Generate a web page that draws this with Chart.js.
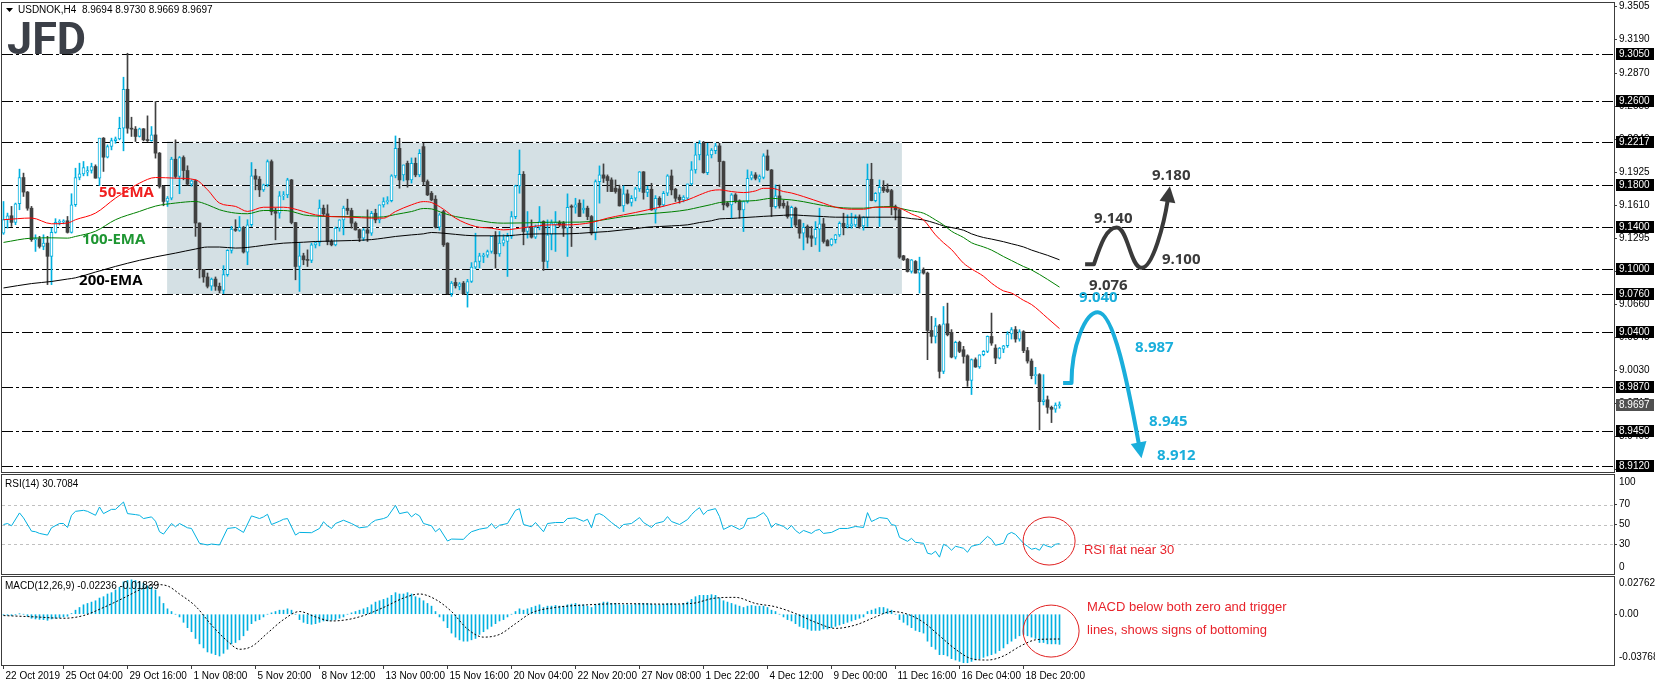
<!DOCTYPE html>
<html>
<head>
<meta charset="utf-8">
<title>USDNOK H4</title>
<script src="https://cdn.jsdelivr.net/npm/chart.js@4.4.1/dist/chart.umd.min.js"></script>
<style>
  html, body { margin: 0; padding: 0; background: #fff; }
  #wrap { position: relative; width: 1655px; height: 686px; overflow: hidden; }
  #wrap canvas { position: absolute; left: 0; top: 0; }
</style>
</head>
<body>
<div id="wrap">
  <canvas id="mainChart" width="1655" height="686"></canvas>
  <canvas id="rsiChart" width="1655" height="686"></canvas>
  <canvas id="macdChart" width="1655" height="686"></canvas>
</div>
<script>
// ---- chart data ----
const xTickBars = [0, 15, 31, 47, 63, 79, 95, 111, 127, 143, 159, 175, 191, 207, 223, 239, 255];
const xTickLabels = ['22 Oct 2019', '25 Oct 04:00', '29 Oct 16:00', '1 Nov 08:00', '5 Nov 20:00', '8 Nov 12:00',
  '13 Nov 00:00', '15 Nov 16:00', '20 Nov 04:00', '22 Nov 20:00', '27 Nov 08:00', '1 Dec 22:00',
  '4 Dec 12:00', '9 Dec 00:00', '11 Dec 16:00', '16 Dec 04:00', '18 Dec 20:00'];

const opens = [
  9.1342,9.1470,9.1508,9.1444,9.1622,9.1873,9.1734,9.1580,9.1279,9.1288,
  9.1215,9.1247,9.1120,9.1349,9.1444,9.1450,9.1460,9.1349,9.1613,9.1873,
  9.1908,9.1924,9.1940,9.1978,9.1867,9.2249,9.2067,9.2169,9.2226,9.2242,
  9.2344,9.2716,9.2344,9.2335,9.2265,9.2338,9.2233,9.2226,9.2280,9.2106,
  9.1788,9.1644,9.1676,9.2048,9.1883,9.2064,9.1940,9.1810,9.1842,9.1438,
  9.0993,9.0923,9.0834,9.0903,9.0834,9.0795,9.0945,9.1177,9.1380,9.1368,
  9.1396,9.1161,9.1422,9.1889,9.1857,9.1755,9.1803,9.2025,9.1548,9.1532,
  9.1698,9.1707,9.1850,9.1443,9.1023,9.1125,9.1087,9.1081,9.1230,9.1252,
  9.1580,9.1526,9.1262,9.1230,9.1389,9.1469,9.1580,9.1558,9.1437,9.1373,
  9.1294,9.1373,9.1341,9.1532,9.1468,9.1612,9.1643,9.1653,9.1888,9.2152,
  9.1898,9.2009,9.1850,9.2009,9.1898,9.2168,9.1834,9.1723,9.1666,9.1399,
  9.1548,9.1246,9.0763,9.0871,9.0833,9.0864,9.0775,9.0880,9.1017,9.1071,
  9.1120,9.1132,9.1166,9.1310,9.1144,9.1246,9.1262,9.1310,9.1500,9.1793,
  9.1904,9.1357,9.1405,9.1303,9.1399,9.1453,9.1071,9.1330,9.1420,9.1443,
  9.1437,9.1389,9.1600,9.1589,9.1628,9.1564,9.1580,9.1500,9.1341,9.1834,
  9.1898,9.1882,9.1850,9.1771,9.1764,9.1602,9.1717,9.1634,9.1675,9.1764,
  9.1927,9.1730,9.1761,9.1564,9.1675,9.1612,9.1723,9.1888,9.1761,9.1685,
  9.1660,9.1675,9.1812,9.1946,9.2089,9.2200,9.1920,9.2089,9.2130,9.2175,
  9.2025,9.1628,9.1612,9.1707,9.1650,9.1564,9.1644,9.1866,9.1898,9.1856,
  9.1875,9.2079,9.1945,9.1595,9.1697,9.1627,9.1602,9.1484,9.1580,9.1468,
  9.1341,9.1405,9.1316,9.1293,9.1379,9.1430,9.1270,9.1230,9.1280,9.1325,
  9.1436,9.1405,9.1411,9.1420,9.1484,9.1411,9.1490,9.1856,9.1653,9.1723,
  9.1780,9.1760,9.1748,9.1595,9.1564,9.1125,9.1093,9.0975,9.1071,9.0960,
  9.0992,9.0960,9.0412,9.0355,9.0457,9.0021,9.0476,9.0393,9.0158,9.0298,
  9.0228,9.0170,8.9935,9.0133,9.0063,9.0180,9.0212,9.0355,9.0244,9.0148,
  9.0234,9.0266,9.0380,9.0420,9.0330,9.0400,9.0220,9.0120,8.9980,8.9990,
  8.9732,8.9750,8.9678,8.9659,8.9694];
const highs = [
  9.1644,9.1533,9.1597,9.1629,9.1953,9.1915,9.1740,9.1597,9.1326,9.1311,
  9.1326,9.1311,9.1390,9.1480,9.1470,9.1470,9.1501,9.1718,9.1962,9.2010,
  9.2026,9.1978,9.2010,9.1994,9.2249,9.2255,9.2185,9.2249,9.2260,9.2449,
  9.2831,9.3060,9.2449,9.2360,9.2345,9.2341,9.2462,9.2360,9.2598,9.2112,
  9.1795,9.1692,9.2067,9.2233,9.2074,9.2080,9.1985,9.1851,9.1851,9.1440,
  9.0995,9.0961,9.0913,9.0923,9.0865,9.1031,9.1183,9.1406,9.1470,9.1501,
  9.1406,9.1470,9.2016,9.1952,9.1882,9.1810,9.2041,9.2041,9.1580,9.1739,
  9.1739,9.1866,9.1855,9.1445,9.1246,9.1150,9.1182,9.1246,9.1260,9.1659,
  9.1610,9.1612,9.1280,9.1400,9.1470,9.1600,9.1666,9.1580,9.1450,9.1380,
  9.1385,9.1564,9.1550,9.1570,9.1612,9.1680,9.1690,9.1900,9.2270,9.2248,
  9.1993,9.2030,9.2060,9.2060,9.2140,9.2200,9.1850,9.1740,9.1700,9.1530,
  9.1560,9.1250,9.0880,9.0912,9.0870,9.0880,9.0900,9.1060,9.1341,9.1150,
  9.1150,9.1180,9.1310,9.1357,9.1357,9.1326,9.1341,9.1548,9.1800,9.2136,
  9.1930,9.1548,9.1468,9.1420,9.1596,9.1460,9.1468,9.1468,9.1548,9.1460,
  9.1453,9.1717,9.1612,9.1675,9.1660,9.1660,9.1600,9.1510,9.1850,9.1984,
  9.2003,9.1898,9.1870,9.1850,9.1800,9.1793,9.1755,9.1700,9.1780,9.1930,
  9.1930,9.1790,9.1818,9.1700,9.1690,9.1740,9.1900,9.1945,9.1770,9.1707,
  9.1700,9.1810,9.2025,9.2200,9.2225,9.2218,9.2200,9.2150,9.2200,9.2200,
  9.2030,9.1640,9.1720,9.1720,9.1660,9.1650,9.1946,9.1930,9.1920,9.1898,
  9.2100,9.2136,9.1950,9.1802,9.1802,9.1660,9.1643,9.1600,9.1590,9.1470,
  9.1436,9.1420,9.1405,9.1452,9.1580,9.1484,9.1280,9.1290,9.1330,9.1450,
  9.1532,9.1516,9.1532,9.1516,9.1516,9.1500,9.2002,9.2009,9.1730,9.1850,
  9.1843,9.1812,9.1760,9.1610,9.1570,9.1130,9.1100,9.1090,9.1080,9.1112,
  9.1010,9.0970,9.0546,9.0530,9.0470,9.0641,9.0673,9.0420,9.0310,9.0310,
  9.0260,9.0180,9.0140,9.0150,9.0180,9.0220,9.0360,9.0578,9.0276,9.0250,
  9.0270,9.0400,9.0440,9.0450,9.0420,9.0410,9.0250,9.0140,9.0060,9.0000,
  8.9990,8.9786,8.9690,8.9720,8.9730];
const lows = [
  9.1330,9.1390,9.1406,9.1422,9.1565,9.1692,9.1560,9.1263,9.1167,9.1199,
  9.1183,9.0850,9.0850,9.1342,9.1420,9.1430,9.1342,9.1342,9.1597,9.1851,
  9.1889,9.1889,9.1915,9.1867,9.1797,9.1931,9.2060,9.2137,9.2200,9.2233,
  9.2128,9.2296,9.2265,9.2217,9.2260,9.2223,9.2217,9.2220,9.2058,9.1772,
  9.1603,9.1597,9.1660,9.1867,9.1718,9.1851,9.1800,9.1790,9.1311,9.0913,
  9.0872,9.0818,9.0795,9.0795,9.0770,9.0764,9.0930,9.1151,9.1358,9.1358,
  9.1151,9.1040,9.1406,9.1755,9.1691,9.1740,9.1787,9.1516,9.1278,9.1484,
  9.1660,9.1680,9.1430,9.0896,9.0785,9.1040,9.1023,9.1060,9.1200,9.1220,
  9.1500,9.1230,9.1220,9.1220,9.1360,9.1325,9.1520,9.1389,9.1370,9.1260,
  9.1270,9.1262,9.1320,9.1440,9.1440,9.1590,9.1620,9.1640,9.1870,9.1771,
  9.1840,9.1780,9.1820,9.1880,9.1880,9.1800,9.1700,9.1650,9.1390,9.1370,
  9.1214,9.0760,9.0738,9.0817,9.0800,9.0755,9.0635,9.0870,9.1000,9.1010,
  9.1060,9.1110,9.1150,9.1008,9.1120,9.1220,9.0928,9.1290,9.1480,9.1723,
  9.1230,9.1294,9.1294,9.1290,9.1373,9.0985,9.1008,9.1182,9.1167,9.1400,
  9.1310,9.1119,9.1214,9.1532,9.1500,9.1532,9.1470,9.1325,9.1278,9.1628,
  9.1825,9.1739,9.1739,9.1723,9.1600,9.1548,9.1620,9.1600,9.1650,9.1740,
  9.1666,9.1690,9.1560,9.1437,9.1590,9.1600,9.1700,9.1707,9.1644,9.1628,
  9.1640,9.1660,9.1800,9.1914,9.2041,9.1914,9.1900,9.2060,9.2100,9.1787,
  9.1564,9.1590,9.1485,9.1630,9.1485,9.1357,9.1630,9.1850,9.1850,9.1830,
  9.1860,9.1940,9.1500,9.1580,9.1580,9.1580,9.1484,9.1398,9.1398,9.1293,
  9.1182,9.1246,9.1214,9.1230,9.1166,9.1246,9.1220,9.1220,9.1246,9.1310,
  9.1325,9.1390,9.1389,9.1400,9.1389,9.1370,9.1405,9.1650,9.1640,9.1405,
  9.1730,9.1730,9.1516,9.1468,9.1100,9.1080,9.0970,9.0960,9.0960,9.0769,
  9.0950,9.0133,9.0292,9.0292,8.9958,9.0000,9.0360,9.0150,9.0140,9.0200,
  9.0100,8.9878,8.9800,9.0060,9.0050,9.0170,9.0200,9.0270,9.0095,9.0140,
  9.0200,9.0250,9.0330,9.0300,9.0310,9.0200,9.0100,8.9950,8.9900,8.9462,
  8.9700,8.9621,8.9532,8.9630,8.9669];
const closes = [
  9.1470,9.1508,9.1444,9.1622,9.1873,9.1734,9.1580,9.1279,9.1288,9.1215,
  9.1247,9.1120,9.1349,9.1444,9.1454,9.1460,9.1349,9.1613,9.1873,9.1908,
  9.1969,9.1940,9.1978,9.1867,9.2249,9.2067,9.2169,9.2226,9.2242,9.2344,
  9.2716,9.2344,9.2335,9.2265,9.2338,9.2233,9.2226,9.2280,9.2106,9.1788,
  9.1644,9.1676,9.2048,9.1883,9.2064,9.1940,9.1810,9.1842,9.1438,9.0993,
  9.0923,9.0834,9.0903,9.0834,9.0795,9.0945,9.1177,9.1380,9.1368,9.1396,
  9.1161,9.1422,9.1889,9.1857,9.1755,9.1803,9.2025,9.1548,9.1532,9.1698,
  9.1707,9.1850,9.1443,9.1023,9.1125,9.1087,9.1081,9.1230,9.1252,9.1580,
  9.1526,9.1262,9.1230,9.1389,9.1469,9.1580,9.1558,9.1437,9.1373,9.1294,
  9.1373,9.1341,9.1532,9.1468,9.1612,9.1643,9.1653,9.1888,9.2152,9.1850,
  9.1993,9.1850,9.2009,9.1898,9.2105,9.1834,9.1707,9.1659,9.1399,9.1516,
  9.1230,9.0763,9.0864,9.0839,9.0858,9.0763,9.0880,9.1017,9.1071,9.1125,
  9.1132,9.1166,9.1310,9.1144,9.1246,9.1278,9.1310,9.1500,9.1793,9.1904,
  9.1357,9.1399,9.1303,9.1399,9.1453,9.1071,9.1325,9.1437,9.1443,9.1420,
  9.1389,9.1589,9.1589,9.1612,9.1500,9.1580,9.1500,9.1341,9.1834,9.1898,
  9.1866,9.1844,9.1739,9.1739,9.1602,9.1717,9.1628,9.1675,9.1764,9.1927,
  9.1730,9.1761,9.1564,9.1675,9.1612,9.1723,9.1888,9.1755,9.1675,9.1660,
  9.1685,9.1812,9.1946,9.2089,9.2200,9.1920,9.2089,9.2136,9.2175,9.2025,
  9.1612,9.1602,9.1707,9.1644,9.1564,9.1644,9.1866,9.1898,9.1866,9.1882,
  9.2079,9.1945,9.1595,9.1697,9.1602,9.1602,9.1500,9.1589,9.1420,9.1341,
  9.1398,9.1303,9.1293,9.1379,9.1430,9.1262,9.1220,9.1284,9.1325,9.1436,
  9.1405,9.1420,9.1430,9.1484,9.1405,9.1490,9.1856,9.1653,9.1723,9.1780,
  9.1748,9.1739,9.1595,9.1564,9.1112,9.1087,9.0975,9.1087,9.0960,9.0992,
  9.0960,9.0412,9.0355,9.0457,9.0021,9.0476,9.0371,9.0158,9.0298,9.0212,
  9.0164,8.9935,9.0133,9.0063,9.0180,9.0212,9.0355,9.0292,9.0148,9.0244,
  9.0266,9.0380,9.0420,9.0330,9.0400,9.0220,9.0120,8.9980,8.9990,8.9732,
  8.9750,8.9678,8.9659,8.9700,8.9697];

const emaBars = [0,7,12,16,18,23,28,34,38,43,48,51,54,58,61,65,70,72,75,78,82,87,92,95,98,102,105,107,110,113,
  118,122,125,131,137,141,147,151,155,158,161,164,167,171,174,177,179,182,185,188,190,192,195,197,200,205,208,212,215,218,
  222,224,227,230,233,235,237,240,242,245,247,250,252,255,257,261,264];
const ema50 = [9.1470,9.1486,9.1431,9.1438,9.1470,9.1533,9.1676,9.1819,9.1873,9.1867,9.1851,9.1756,9.1629,9.1597,9.1549,
  9.1589,9.1589,9.1580,9.1548,9.1516,9.1500,9.1494,9.1485,9.1485,9.1548,9.1612,9.1643,9.1634,9.1570,9.1485,
  9.1405,9.1389,9.1373,9.1399,9.1421,9.1421,9.1443,9.1485,9.1516,9.1539,9.1564,9.1589,9.1618,9.1659,9.1707,
  9.1748,9.1755,9.1739,9.1729,9.1745,9.1770,9.1770,9.1739,9.1725,9.1691,9.1627,9.1589,9.1570,9.1570,9.1589,
  9.1589,9.1580,9.1525,9.1468,9.1325,9.1250,9.1185,9.1055,9.1000,9.0930,9.0864,9.0790,9.0769,9.0700,9.0660,
  9.0530,9.0430];
const ema100 = [9.1253,9.1294,9.1297,9.1294,9.1310,9.1360,9.1470,9.1549,9.1600,9.1629,9.1644,9.1613,9.1565,9.1533,9.1527,
  9.1558,9.1558,9.1550,9.1516,9.1505,9.1500,9.1500,9.1494,9.1497,9.1520,9.1548,9.1577,9.1573,9.1532,9.1500,
  9.1469,9.1443,9.1437,9.1440,9.1446,9.1446,9.1453,9.1475,9.1500,9.1513,9.1526,9.1535,9.1545,9.1565,9.1590,
  9.1615,9.1634,9.1643,9.1648,9.1653,9.1665,9.1675,9.1665,9.1659,9.1642,9.1605,9.1590,9.1580,9.1580,9.1590,
  9.1596,9.1580,9.1555,9.1532,9.1468,9.1420,9.1360,9.1300,9.1250,9.1210,9.1180,9.1118,9.1080,9.1023,9.0990,
  9.0900,9.0826];
const ema200 = [9.0818,9.0860,9.0880,9.0903,9.0915,9.0970,9.1024,9.1082,9.1115,9.1151,9.1190,9.1209,9.1209,9.1199,9.1205,
  9.1225,9.1246,9.1250,9.1255,9.1262,9.1266,9.1271,9.1280,9.1294,9.1310,9.1325,9.1335,9.1348,9.1341,9.1330,
  9.1316,9.1316,9.1316,9.1332,9.1335,9.1335,9.1348,9.1357,9.1373,9.1385,9.1399,9.1405,9.1411,9.1421,9.1443,
  9.1460,9.1478,9.1482,9.1490,9.1497,9.1502,9.1506,9.1512,9.1516,9.1510,9.1500,9.1494,9.1494,9.1494,9.1494,
  9.1494,9.1494,9.1480,9.1468,9.1436,9.1411,9.1395,9.1370,9.1335,9.1300,9.1285,9.1260,9.1240,9.1210,9.1180,
  9.1130,9.1087];

const rsiBars = [0,1,2,4,5,7,8,9,11,12,14,15,16,17,18,20,21,23,24,25,27,28,30,31,33,34,35,37,38,39,
  40,42,43,44,46,47,49,51,52,54,56,58,60,62,64,65,66,67,69,70,71,73,74,77,79,80,81,82,83,85,
  87,89,91,92,93,95,96,98,99,101,102,103,104,105,107,108,109,111,112,115,116,117,119,121,122,123,124,126,128,129,
  130,132,133,135,136,138,140,141,143,145,146,147,148,149,150,152,154,155,157,159,160,162,163,165,166,167,169,171,172,173,
  174,175,176,178,179,180,182,184,185,186,188,190,191,192,193,195,196,197,198,199,200,202,203,204,205,207,209,211,213,215,
  216,217,218,219,221,222,223,224,226,227,228,230,231,232,233,234,235,236,237,238,239,240,241,242,244,246,247,248,250,251,
  252,253,255,256,257,258,259,260,261,262,263,264];
const rsiValues = [50,51,48.7,61.7,56.7,43.3,42.7,41,39.3,46.7,51,51,47,59.3,63.3,64.3,63.3,59.3,67.7,61,65.3,65.3,72.7,61,60,59.3,56,57.7,53.3,42.7,
  40.3,51,47.7,51,46.7,46,31,29.3,30.3,29.3,46,47,42,58.7,56,57.7,60.3,50,53.3,55.3,56,39.3,42,41.7,46,52.7,48.7,46,51,54.3,
  51,46.7,47.7,51.7,54.3,56,57.7,69.3,61,62.7,57.7,61,58.7,51,48.7,42.7,46,33.3,35.3,35,39.3,42.7,45.3,46.7,51,46,49.3,51,64.3,66,
  50,47.7,52,42.7,51,52,52,56,56.7,53.3,55.3,46.7,60,61,59,52,46,50,51,57,52,47,51,53,58,53,50,55,60,64,
  67,60,64,66,58,45,49,45,47,56,57,62,57,47,51,48,45,49,44,41,44,41,44,45,41,42,46,46,48,47,
  62,53,55,57,56,50,49,37,33,36,32,31,21,20,23,17,30,28,24,28,27,26,22,28,30,38,35,29,31,40,
  42,40,31,28,25,26,24,30,28,27,30,30.7];

const macdMain = [
  -0.0005,-0.0008,-0.001,-0.0005,0.0002, 0,-0.0015,-0.003,-0.0035,-0.0038,
  -0.004,-0.0045,-0.0035,-0.003,-0.0025, -0.002,-0.0015,0.0005,0.003,0.005,
  0.007,0.008,0.009,0.01,0.012, 0.013,0.015,0.016,0.018,0.02,
  0.024,0.025,0.0255,0.025,0.024, 0.023,0.021,0.02,0.018,0.013,
  0.008,0.004,0.002,0,-0.002, -0.006,-0.01,-0.013,-0.018,-0.022,
  -0.025,-0.028,-0.029,-0.03,-0.031, -0.029,-0.026,-0.022,-0.021,-0.019,
  -0.016,-0.012,-0.007,-0.005,-0.004, -0.002,0,0.001,0.002,0.003,
  0.003,0.004,0.003,0,-0.004, -0.006,-0.007,-0.0075,-0.007,-0.006,
  -0.005,-0.005,-0.0045,-0.004,-0.003, -0.002,0,0.001,0.002,0.003,
  0.004,0.005,0.007,0.009,0.01, 0.011,0.012,0.014,0.016,0.015,
  0.015,0.016,0.015,0.013,0.012, 0.01,0.008,0.006,0.002,-0.002,
  -0.005,-0.01,-0.014,-0.017,-0.019, -0.02,-0.02,-0.019,-0.018,-0.015,
  -0.013,-0.011,-0.009,-0.007,-0.005, -0.004,-0.002,0,0.002,0.004,
  0.003,0.004,0.005,0.006,0.007, 0.005,0.006,0.006,0.0065,0.006,
  0.006,0.007,0.0075,0.008,0.007, 0.007,0.006,0.005,0.007,0.008,
  0.009,0.009,0.008,0.008,0.007, 0.007,0.007,0.007,0.0075,0.008,
  0.008,0.008,0.0075,0.007,0.007, 0.0075,0.008,0.008,0.0075,0.007,
  0.008,0.009,0.011,0.013,0.014, 0.014,0.014,0.0145,0.014,0.012,
  0.01,0.009,0.008,0.007,0.006, 0.005,0.006,0.0065,0.006,0.006,
  0.006,0.005,0.003,0.002,0, -0.002,-0.004,-0.005,-0.007,-0.009,
  -0.01,-0.011,-0.012,-0.012,-0.012, -0.011,-0.011,-0.01,-0.009,-0.008,
  -0.007,-0.006,-0.005,-0.004,-0.003, -0.002,0.002,0.003,0.004,0.005,
  0.005,0.004,0.003,0,-0.004, -0.006,-0.008,-0.01,-0.012,-0.013,
  -0.014,-0.02,-0.024,-0.026,-0.03, -0.03,-0.031,-0.033,-0.034,-0.035,
  -0.036,-0.036,-0.035,-0.034,-0.033, -0.032,-0.031,-0.03,-0.029,-0.027,
  -0.025,-0.022,-0.02,-0.018,-0.016, -0.015,-0.016,-0.017,-0.018,-0.021,
  -0.021,-0.022,-0.022,-0.022,-0.02236];
const signalBars = [0,8,15,20,25,30,34,38,41,44,48,52,56,59,62,66,70,74,78,82,86,90,95,100,104,108,112,116,120,124,
  128,132,138,145,155,165,172,178,183,188,193,198,203,208,213,218,222,226,230,234,238,242,246,250,254,258,261,264];
const signalValues = [-0.001,-0.002,-0.003,-0.001,0.005,0.012,0.018,0.022,0.021,0.015,0.006,-0.008,-0.020,-0.026,-0.024,
  -0.014,-0.004,0.002,-0.002,-0.005,-0.004,-0.001,0.005,0.012,0.015,0.011,0.002,-0.011,-0.017,-0.015,
  -0.007,0.001,0.005,0.0068,0.0078,0.0075,0.008,0.012,0.0125,0.008,0.0055,0.0005,-0.006,-0.0105,-0.008,
  -0.002,0.002,0,-0.006,-0.016,-0.026,-0.033,-0.034,-0.031,-0.024,-0.019,-0.0185,-0.01839];

const priceTicks = [9.3505, 9.3190, 9.2870, 9.2555, 9.2240, 9.1925, 9.1610, 9.1295, 9.0975, 9.0660, 9.0345, 9.0030, 8.9715, 8.9400, 8.9085];
const levelPrices = [9.3050, 9.2600, 9.2217, 9.1800, 9.1400, 9.1000, 9.0760, 9.0400, 8.9870, 8.9450, 8.9120];
const lastPrice = 8.9697;
const rangeBars = [40.9, 224.6];
const rangePrices = [9.0760, 9.2217];
const rsiLevels = [70, 50, 30];

// ---- look ----
const FONT = '"Liberation Sans", Arial, sans-serif';
const NOTE_FONT = '"Open Sans", "Liberation Sans", sans-serif';
const CYAN = '#00b0e0';
const DARK = '#404040';
const FRAME = '#3c3c3c';
const NOTE_CYAN = '#1aaedb';
const NOTE_DARK = '#3a3a3a';
const X_MIN = -0.375, X_MAX = 402.625;

Chart.defaults.font.family = FONT;
Chart.defaults.font.size = 10;
Chart.defaults.color = '#000';

function timeAxis(show) {
  return {
    type: 'linear', min: X_MIN, max: X_MAX, offset: false, display: show,
    afterBuildTicks: s => { s.ticks = xTickBars.map(v => ({ value: v })); },
    afterFit: s => {
      // hidden time axes must not take any room in the upper panels
      s.height = show ? 21 : 0;
      s.paddingLeft = 0;
      s.paddingRight = 0;
    },
    border: { display: false },
    grid: { drawOnChartArea: false, drawTicks: true, tickLength: 4, color: FRAME, offset: false },
    ticks: {
      autoSkip: false, maxRotation: 0, minRotation: 0, align: 'start', labelOffset: 2, padding: 1,
      color: '#000', font: { size: 10, family: FONT },
      callback: v => { const k = xTickBars.indexOf(v); return k < 0 ? '' : xTickLabels[k]; }
    }
  };
}

function valueAxis(min, max, ticks, fmt) {
  return {
    type: 'linear', position: 'right', min: min, max: max,
    afterBuildTicks: s => { s.ticks = ticks.slice().sort((a, b) => a - b).map(v => ({ value: v })); },
    afterFit: s => { s.width = 41; s.paddingTop = 0; s.paddingBottom = 0; },
    border: { display: false },
    grid: { drawOnChartArea: false, drawTicks: true, tickLength: 3, color: FRAME },
    ticks: { autoSkip: false, padding: 2, color: '#000', font: { size: 10, family: FONT }, callback: fmt }
  };
}

function pt(chart, bar, value) {
  return { x: chart.scales.x.getPixelForValue(bar), y: chart.scales.y.getPixelForValue(value) };
}

function drawFrame(chart) {
  const ctx = chart.ctx, a = chart.chartArea;
  ctx.save();
  ctx.strokeStyle = FRAME;
  ctx.lineWidth = 1;
  ctx.strokeRect(a.left - 0.5, a.top - 0.5, a.right - a.left + 1, a.bottom - a.top + 1);
  ctx.restore();
}

function text(ctx, str, x, y, font, color, align) {
  ctx.font = font;
  ctx.fillStyle = color;
  ctx.textAlign = align || 'left';
  ctx.textBaseline = 'middle';
  ctx.fillText(str, x, y);
}

function axisTag(chart, value, label, bg) {
  const ctx = chart.ctx;
  const y = Math.round(chart.scales.y.getPixelForValue(value));
  ctx.fillStyle = bg;
  ctx.fillRect(chart.chartArea.right + 2, y - 6, 38, 12);
  text(ctx, label, chart.chartArea.right + 5, y + 0.5, '10px ' + FONT, '#ffffff');
}

function arrowHead(ctx, tip, from, len, half, color) {
  const dx = tip.x - from.x, dy = tip.y - from.y, d = Math.hypot(dx, dy);
  const ux = dx / d, uy = dy / d;
  const bx = tip.x - ux * len, by = tip.y - uy * len;
  ctx.fillStyle = color;
  ctx.beginPath();
  ctx.moveTo(tip.x, tip.y);
  ctx.lineTo(bx - uy * half, by + ux * half);
  ctx.lineTo(bx + uy * half, by - ux * half);
  ctx.closePath();
  ctx.fill();
  return { x: bx + ux * 2, y: by + uy * 2 };
}

// scenario arrows and labels, anchored in (bar, price)
const upArrowPath = [[270.4, 9.1044], [272.6, 9.1044], [278.3, 9.1395], [284.5, 9.1010], [291.6, 9.1790]];
const downArrowPath = [[264.9, 8.9911], [267.0, 8.9911], [273.6, 9.0585], [284.5, 8.9191]];
const noteLabels = [
  ['9.180', 287.1, 9.1887, NOTE_DARK], ['9.140', 272.6, 9.1480, NOTE_DARK],
  ['9.100', 289.6, 9.1085, NOTE_DARK], ['9.076', 271.4, 9.0837, NOTE_DARK],
  ['9.040', 268.9, 9.0722, NOTE_CYAN], ['8.987', 282.9, 9.0244, NOTE_CYAN],
  ['8.945', 286.4, 8.9537, NOTE_CYAN], ['8.912', 288.4, 8.9213, NOTE_CYAN]
];
const emaLabels = [['50-EMA', 23.9, 9.1725, '#f01e1e'], ['100-EMA', 19.6, 9.1276, '#1e9632'], ['200-EMA', 18.9, 9.0884, '#000000']];

const mainDecor = {
  id: 'mainDecor',
  beforeDatasetsDraw(chart) {
    const ctx = chart.ctx, a = chart.chartArea;
    ctx.save();
    // consolidation range
    const p1 = pt(chart, rangeBars[0], rangePrices[1]);
    const p2 = pt(chart, rangeBars[1], rangePrices[0]);
    ctx.fillStyle = '#d4e0e4';
    ctx.fillRect(p1.x, p1.y, p2.x - p1.x, p2.y - p1.y);
    // horizontal levels
    levelPrices.forEach(v => {
      const y = Math.round(chart.scales.y.getPixelForValue(v)) + 0.5;
      ctx.lineWidth = 1;
      ctx.setLineDash([]);
      ctx.strokeStyle = '#ffffff';
      ctx.beginPath(); ctx.moveTo(a.left, y); ctx.lineTo(a.right, y); ctx.stroke();
      ctx.setLineDash([11, 3, 3, 3]);
      ctx.strokeStyle = '#000000';
      ctx.beginPath(); ctx.moveTo(a.left, y); ctx.lineTo(a.right, y); ctx.stroke();
    });
    ctx.restore();
  },
  afterDatasetsDraw(chart) {
    const ctx = chart.ctx;
    ctx.save();
    ctx.lineCap = 'butt';
    ctx.lineJoin = 'round';
    ctx.lineWidth = 4;

    // upside scenario (dark)
    let q = upArrowPath.map(p => pt(chart, p[0], p[1]));
    let dx = q[2].x - q[1].x, dy = q[2].y - q[1].y;
    const c2 = { x: q[4].x - 0.2 * (q[4].x - q[3].x), y: q[4].y - 0.45 * (q[4].y - q[3].y) };
    let base = arrowHead(ctx, q[4], c2, 16, 8, NOTE_DARK);
    ctx.strokeStyle = NOTE_DARK;
    ctx.beginPath();
    ctx.moveTo(q[0].x, q[0].y);
    ctx.lineTo(q[1].x, q[1].y);
    ctx.bezierCurveTo(q[1].x + 0.3 * dx, q[1].y + 0.55 * dy, q[2].x - 0.45 * dx, q[2].y, q[2].x, q[2].y);
    dx = q[3].x - q[2].x;
    ctx.bezierCurveTo(q[2].x + 0.45 * dx, q[2].y, q[3].x - 0.45 * dx, q[3].y, q[3].x, q[3].y);
    dx = q[4].x - q[3].x;
    ctx.bezierCurveTo(q[3].x + 0.4 * dx, q[3].y, c2.x, c2.y, base.x, base.y);
    ctx.stroke();

    // downside scenario (cyan)
    q = downArrowPath.map(p => pt(chart, p[0], p[1]));
    dx = q[2].x - q[1].x; dy = q[2].y - q[1].y;
    const tx = q[3].x - q[2].x, ty = q[3].y - q[2].y;
    const d2 = { x: q[3].x - 0.32 * tx, y: q[3].y - 0.52 * ty };
    base = arrowHead(ctx, q[3], d2, 16, 8, NOTE_CYAN);
    ctx.strokeStyle = NOTE_CYAN;
    ctx.beginPath();
    ctx.moveTo(q[0].x, q[0].y);
    ctx.lineTo(q[1].x, q[1].y);
    ctx.bezierCurveTo(q[1].x, q[1].y + 0.5 * dy, q[2].x - 0.5 * dx, q[2].y, q[2].x, q[2].y);
    ctx.bezierCurveTo(q[2].x + 0.36 * tx, q[2].y, d2.x, d2.y, base.x, base.y);
    ctx.stroke();

    noteLabels.forEach(n => {
      const p = pt(chart, n[1], n[2]);
      text(ctx, n[0], p.x, p.y, 'bold 15px ' + NOTE_FONT, n[3]);
    });
    emaLabels.forEach(n => {
      const p = pt(chart, n[1], n[2]);
      text(ctx, n[0], p.x, p.y, 'bold 15px ' + NOTE_FONT, n[3]);
    });
    ctx.restore();
  },
  afterDraw(chart) {
    const ctx = chart.ctx;
    ctx.save();
    // logo
    ctx.font = 'bold 45px Roboto, ' + FONT;
    ctx.fillStyle = '#3b3f47';
    ctx.textAlign = 'left';
    ctx.textBaseline = 'alphabetic';
    ctx.fillText('JFD', 7, 54);
    // header
    ctx.fillStyle = '#000';
    ctx.beginPath(); ctx.moveTo(6, 8); ctx.lineTo(13, 8); ctx.lineTo(9.5, 12); ctx.closePath(); ctx.fill();
    text(ctx, 'USDNOK,H4  8.9694 8.9730 8.9669 8.9697', 18, 10.5, '10px ' + FONT, '#000');
    drawFrame(chart);
    levelPrices.forEach(v => axisTag(chart, v, v.toFixed(4), '#000000'));
    axisTag(chart, lastPrice, lastPrice.toFixed(4), '#505050');
    ctx.restore();
  }
};

const rsiDecor = {
  id: 'rsiDecor',
  beforeDatasetsDraw(chart) {
    const ctx = chart.ctx, a = chart.chartArea;
    ctx.save();
    ctx.strokeStyle = '#c0c0c0';
    ctx.lineWidth = 1;
    ctx.setLineDash([3, 3]);
    rsiLevels.forEach(v => {
      const y = Math.round(chart.scales.y.getPixelForValue(v)) + 0.5;
      ctx.beginPath(); ctx.moveTo(a.left, y); ctx.lineTo(a.right, y); ctx.stroke();
    });
    ctx.restore();
  },
  afterDraw(chart) {
    const ctx = chart.ctx, a = chart.chartArea;
    ctx.save();
    text(ctx, 'RSI(14) 30.7084', 5, a.top + 9, '10px ' + FONT, '#000');
    const c = pt(chart, 261.4, 33.3);
    ctx.strokeStyle = '#e02020';
    ctx.lineWidth = 1;
    ctx.beginPath(); ctx.ellipse(c.x, c.y, 26, 24, 0, 0, Math.PI * 2); ctx.stroke();
    const t = pt(chart, 270.1, 24.2);
    text(ctx, 'RSI flat near 30', t.x, t.y, '13px ' + FONT, '#e8232b');
    text(ctx, '100', a.right + 5, a.top + 7, '10px ' + FONT, '#000');
    text(ctx, '0', a.right + 5, a.bottom - 7, '10px ' + FONT, '#000');
    drawFrame(chart);
    ctx.restore();
  }
};

const macdDecor = {
  id: 'macdDecor',
  afterDraw(chart) {
    const ctx = chart.ctx, a = chart.chartArea;
    ctx.save();
    text(ctx, 'MACD(12,26,9) -0.02236 -0.01839', 5, a.top + 9, '10px ' + FONT, '#000');
    const c = pt(chart, 261.9, -0.0125);
    ctx.strokeStyle = '#e02020';
    ctx.lineWidth = 1;
    ctx.beginPath(); ctx.ellipse(c.x, c.y, 28, 26, 0, 0, Math.PI * 2); ctx.stroke();
    let t = pt(chart, 270.9, 0.00536);
    text(ctx, 'MACD below both zero and trigger', t.x, t.y, '13px ' + FONT, '#e8232b');
    t = pt(chart, 270.9, -0.01171);
    text(ctx, 'lines, shows signs of bottoming', t.x, t.y, '13px ' + FONT, '#e8232b');
    text(ctx, '0.02762', a.right + 5, a.top + 6, '10px ' + FONT, '#000');
    text(ctx, '-0.03768', a.right + 5, a.bottom - 8, '10px ' + FONT, '#000');
    drawFrame(chart);
    ctx.restore();
  }
};

const isBull = i => closes[i] >= opens[i];
const common = { responsive: false, animation: false, events: [], plugins: { legend: { display: false }, tooltip: { enabled: false } } };

// ---- price panel ----
new Chart(document.getElementById('mainChart'), {
  type: 'bar',
  data: {
    datasets: [
      {
        type: 'line', label: '50-EMA', order: 0,
        data: emaBars.map((b, k) => ({ x: b, y: ema50[k] })),
        borderColor: '#ff0000', borderWidth: 1, pointRadius: 0, cubicInterpolationMode: 'monotone'
      },
      {
        type: 'line', label: '100-EMA', order: 0,
        data: emaBars.map((b, k) => ({ x: b, y: ema100[k] })),
        borderColor: '#008000', borderWidth: 1, pointRadius: 0, cubicInterpolationMode: 'monotone'
      },
      {
        type: 'line', label: '200-EMA', order: 0,
        data: emaBars.map((b, k) => ({ x: b, y: ema200[k] })),
        borderColor: '#000000', borderWidth: 1, pointRadius: 0, cubicInterpolationMode: 'monotone'
      },
      {
        label: 'body', order: 1, grouped: false, barThickness: 3, minBarLength: 1, borderSkipped: false,
        data: opens.map((o, i) => ({ x: i, y: [o, closes[i]] })),
        backgroundColor: c => isBull(c.dataIndex) ? '#ffffff' : DARK,
        borderColor: c => isBull(c.dataIndex) ? CYAN : DARK,
        borderWidth: c => isBull(c.dataIndex) ? 1 : 0
      },
      {
        label: 'wick', order: 2, grouped: false, barThickness: 1, borderWidth: 0,
        data: opens.map((o, i) => ({ x: i, y: [lows[i], highs[i]] })),
        backgroundColor: c => isBull(c.dataIndex) ? CYAN : DARK
      }
    ]
  },
  options: Object.assign({}, common, {
    layout: { padding: { left: 2, top: 3, right: 0, bottom: 214 } },
    scales: {
      x: timeAxis(false),
      y: valueAxis(8.906, 9.354, priceTicks, v => v.toFixed(4))
    }
  }),
  plugins: [mainDecor]
});

// ---- RSI panel ----
new Chart(document.getElementById('rsiChart'), {
  type: 'line',
  data: {
    datasets: [{
      label: 'RSI(14)',
      data: rsiBars.map((b, k) => ({ x: b, y: rsiValues[k] })),
      borderColor: CYAN, borderWidth: 1, pointRadius: 0, tension: 0
    }]
  },
  options: Object.assign({}, common, {
    layout: { padding: { left: 2, top: 475, right: 0, bottom: 112 } },
    scales: {
      x: timeAxis(false),
      y: valueAxis(0, 100, rsiLevels, v => String(v))
    }
  }),
  plugins: [rsiDecor]
});

// ---- MACD panel ----
new Chart(document.getElementById('macdChart'), {
  type: 'bar',
  data: {
    datasets: [
      {
        type: 'line', label: 'Signal', order: 0,
        data: signalBars.map((b, k) => ({ x: b, y: signalValues[k] })),
        borderColor: '#000000', borderWidth: 1, borderDash: [2, 2], pointRadius: 0, cubicInterpolationMode: 'monotone'
      },
      {
        label: 'MACD', order: 1, grouped: false, barThickness: 1, borderWidth: 0,
        data: macdMain.map((v, i) => ({ x: i, y: v })),
        backgroundColor: CYAN
      }
    ]
  },
  options: Object.assign({}, common, {
    layout: { padding: { left: 2, top: 577, right: 0, bottom: 0 } },
    scales: {
      x: timeAxis(true),
      y: valueAxis(-0.03768, 0.02762, [0], () => '0.00')
    }
  }),
  plugins: [macdDecor]
});
</script>
</body>
</html>
